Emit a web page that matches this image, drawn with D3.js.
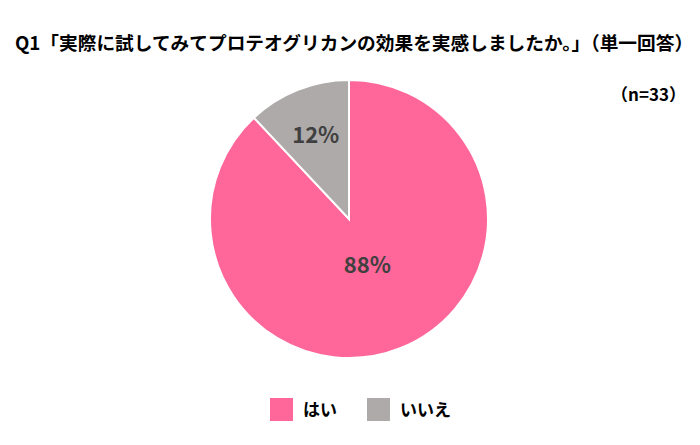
<!DOCTYPE html>
<html>
<head>
<meta charset="utf-8">
<script src="https://cdn.jsdelivr.net/npm/d3@7"></script>
<style>
  body { margin: 0; background: #fff; }
  text { font-family: "Noto Sans CJK JP", "Noto Sans", sans-serif; }
</style>
</head>
<body>
<div id="chart"></div>
<script>
// datos
const categories = ["はい", "いいえ"];
const values = [88, 12];
const colors = ["#FF6699", "#AEAAAA"];
const title = "Q1「実際に試してみてプロテオグリカンの効果を実感しましたか。」（単一回答）";
const sampleLabel = "（n=33）";

const width = 700, height = 445;
const cx = 349, cy = 219, radius = 139;

const svg = d3.select("#chart")
  .append("svg")
  .attr("width", width)
  .attr("height", height);

// titulo
svg.append("text")
  .attr("x", 354)
  .attr("y", 50)
  .attr("text-anchor", "middle")
  .style("font-size", "18.7px")
  .style("font-weight", "bold")
  .attr("fill", "#000")
  .text(title);

svg.append("text")
  .attr("x", 686)
  .attr("y", 101)
  .attr("text-anchor", "end")
  .style("font-size", "17px")
  .style("font-weight", "bold")
  .attr("fill", "#000")
  .text(sampleLabel);

const color = d3.scaleOrdinal().domain(categories).range(colors);

const pie = d3.pie().sort(null).value(d => d.value);
const arcs = pie(categories.map((c, i) => ({ name: c, value: values[i] })));

const arc = d3.arc().innerRadius(0).outerRadius(radius);

const g = svg.append("g").attr("transform", `translate(${cx},${cy})`);

g.selectAll("path")
  .data(arcs)
  .enter().append("path")
  .attr("d", arc)
  .attr("fill", d => color(d.data.name))
  .attr("stroke", "#fff")
  .attr("stroke-width", 2);

// etiquetas: la porcion pequeña mas afuera
const labelArc = d => {
  const r = d.data.value < 50 ? radius * 0.65 : radius * 0.36;
  return d3.arc().innerRadius(r).outerRadius(r).centroid(d);
};

g.selectAll(".lbl")
  .data(arcs)
  .enter().append("text")
  .attr("class", "lbl")
  .attr("transform", d => `translate(${labelArc(d)})`)
  .attr("text-anchor", "middle")
  .attr("dy", "0.36em")
  .style("font-size", "22px")
  .style("font-weight", "bold")
  .attr("fill", "#404040")
  .text(d => d.data.value + "%");

// leyenda
const legendX = [270, 367];
const legend = svg.selectAll(".legend")
  .data(categories)
  .enter().append("g")
  .attr("class", "legend")
  .attr("transform", (d, i) => `translate(${legendX[i]}, 398)`);

legend.append("rect")
  .attr("width", 23)
  .attr("height", 23)
  .attr("fill", d => color(d));

legend.append("text")
  .attr("x", 33)
  .attr("y", 12)
  .attr("dy", "0.36em")
  .style("font-size", "17px")
  .style("font-weight", "bold")
  .attr("fill", "#000")
  .text(d => d);
</script>
</body>
</html>
